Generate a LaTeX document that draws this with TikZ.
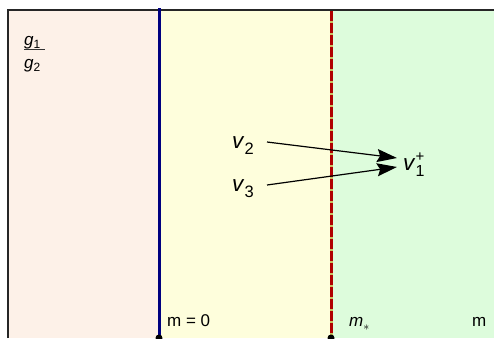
\documentclass[tikz,border=0pt]{standalone}
\usepackage{fontspec}
\setmainfont{Liberation Sans}
\usetikzlibrary{arrows.meta}
\definecolor{leftbg}{HTML}{FDF1E8}
\definecolor{midbg}{HTML}{FEFEDC}
\definecolor{rightbg}{HTML}{DDFCDC}
\definecolor{navy}{HTML}{000080}
\definecolor{dred}{HTML}{B00000}
\definecolor{gapcol}{HTML}{C8C060}
\newcommand\mysub[2]{\textit{#1}\raisebox{-6pt}{\fontsize{16.5}{16.5}\selectfont #2}}
\newcommand\mysmallsub[2]{\textit{#1}\raisebox{-3pt}{\fontsize{12}{12}\selectfont #2}}
\begin{document}
\begin{tikzpicture}[x=1pt,y=-1pt,
  lbl/.style={inner sep=0pt,anchor=base west,font=\fontsize{17}{17}\selectfont},
  glbl/.style={inner sep=0pt,anchor=base west,font=\fontsize{17}{17}\selectfont},
  vlbl/.style={inner sep=0pt,anchor=base west,font=\fontsize{22.5}{22.5}\selectfont},
  arr/.style={-{Stealth[length=20pt,width=13pt,inset=3pt]},line width=1.2pt}]
\useasboundingbox (0,0) rectangle (494,338);
\fill[leftbg] (8,10) rectangle (159,338);
\fill[midbg] (159,10) rectangle (331,338);
\fill[rightbg] (331,10) rectangle (494,338);
\draw[line width=2pt,black!85] (8,338) -- (8,10) -- (494,10);
\draw[line width=3pt,navy] (159,8) -- (159,338);
\draw[line width=3pt,gapcol] (331,11) -- (331,338);
\draw[line width=3pt,dred,dash pattern=on 10pt off 2pt] (331,11) -- (331,338);
\fill[black] (159,338) circle (3.5);
\fill[black] (331,338) circle (3.5);
\node[glbl] (g1) at (24,45) {\mysmallsub{g}{1}};
\node[glbl] (g2) at (24,68) {\mysmallsub{g}{2}};
\draw[line width=1pt,black!80] (24,49) -- (45,49);
\node[lbl] (m0) at (167,326) {m = 0};
\node[lbl] (ms) at (349,326) {\textit{m}\raisebox{-4pt}{\fontsize{12}{12}\selectfont$*$}};
\node[lbl] (m) at (472,326) {m};
\node[vlbl] (v2) at (232,148) {\mysub{v}{2}};
\node[vlbl] (v3) at (232,191) {\mysub{v}{3}};
\node[vlbl] (v1) at (403,170) {\textit{v}\rlap{\raisebox{-6pt}{\fontsize{16}{16}\selectfont 1}}\raisebox{9pt}{\fontsize{15}{15}\selectfont +}};
\coordinate (t2) at (397,158);
\coordinate (t3) at (397,167);
\draw[arr] (267,142) -- (t2);
\draw[arr] (267,185) -- (t3);
\end{tikzpicture}
\end{document}
